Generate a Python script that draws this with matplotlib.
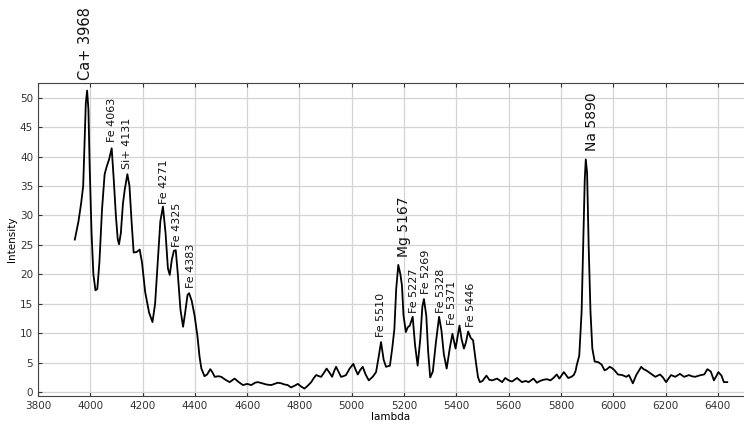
import matplotlib
matplotlib.use('Agg')
import matplotlib.pyplot as plt

# spectrum
wavelength = [3941, 3955, 3965, 3973, 3978, 3983, 3988, 3993, 3998, 4005, 4012, 4020, 4027,
              4035, 4045, 4055, 4063, 4072, 4082, 4090, 4098, 4105, 4110, 4117, 4125, 4132,
              4142, 4150, 4158, 4166, 4178, 4189, 4198, 4210, 4225, 4238, 4248, 4258, 4268,
              4278, 4288, 4297, 4304, 4312, 4320, 4327, 4335, 4345, 4355, 4363, 4372, 4378,
              4388, 4399, 4410, 4418, 4425, 4437, 4447, 4459, 4468, 4476, 4490, 4501, 4517,
              4533, 4552, 4568, 4584, 4600, 4616, 4630, 4641, 4658, 4673, 4692, 4705, 4717,
              4730, 4743, 4755, 4768, 4782, 4794, 4805, 4819, 4832, 4845, 4855, 4864, 4875,
              4883, 4894, 4904, 4915, 4925, 4932, 4940, 4950, 4959, 4968, 4978, 4992, 5006,
              5015, 5023, 5033, 5042, 5053, 5065, 5080, 5093, 5103, 5112, 5122, 5131, 5146,
              5155, 5163, 5170, 5178, 5186, 5192, 5198, 5207, 5214, 5222, 5233, 5242, 5252,
              5262, 5270, 5276, 5285, 5292, 5300, 5310, 5322, 5334, 5343, 5352, 5363, 5375,
              5385, 5397, 5405, 5412, 5420, 5429, 5437, 5445, 5455, 5464, 5475, 5483, 5490,
              5500, 5515, 5526, 5537, 5556, 5575, 5587, 5600, 5613, 5632, 5651, 5665, 5676,
              5695, 5708, 5720, 5733, 5746, 5760, 5771, 5784, 5794, 5811, 5828, 5840, 5849,
              5856, 5860, 5870, 5879, 5885, 5891, 5895, 5900, 5906, 5913, 5920, 5929, 5942,
              5955, 5967, 5976, 5986, 5995, 6005, 6018, 6034, 6050, 6060, 6075, 6088, 6107,
              6116, 6126, 6145, 6161, 6179, 6190, 6202, 6221, 6237, 6255, 6271, 6290, 6300,
              6313, 6335, 6348, 6360, 6373, 6385, 6395, 6402, 6414, 6423, 6436]
intensity = [25.9, 29, 32, 35, 42, 49, 51.2, 48, 38, 27, 20, 17.3, 17.5,
             22, 31, 37, 38.3, 39.5, 41.4, 36, 30, 26, 25.1, 27, 32, 34.4,
             37.0, 35, 29, 23.7, 23.8, 24.2, 22, 17, 13.5, 11.9, 15, 22, 29,
             31.5, 27, 21, 19.9, 22.5, 24.0, 24.1, 20, 14, 11.1, 13.5, 16.5, 16.8,
             15.5, 13.0, 9.5, 6.0, 4.0, 2.7, 3.0, 3.9, 3.3, 2.6, 2.7, 2.6, 2.1,
             1.7, 2.3, 1.7, 1.2, 1.4, 1.2, 1.6, 1.7, 1.5, 1.3, 1.2, 1.4, 1.6,
             1.5, 1.3, 1.2, 0.8, 1.1, 1.4, 1.0, 0.6, 1.1, 1.7, 2.4, 2.9, 2.7,
             2.6, 3.3, 4.0, 3.3, 2.6, 3.5, 4.3, 3.4, 2.6, 2.7, 2.9, 4.0, 4.8,
             3.8, 3.0, 3.8, 4.3, 3.0, 2.0, 2.6, 3.4, 6.0, 8.5, 5.5, 4.3, 4.5,
             7.5, 10.7, 17.5, 21.6, 20.0, 18.1, 13.0, 10.2, 11.0, 11.3, 12.8, 8.0, 4.5,
             9.0, 14.5, 15.8, 13, 7, 2.5, 3.5, 8.5, 12.8, 10.5, 6.5, 4.0, 7.5,
             9.9, 7.4, 9.5, 11.3, 9.0, 7.4, 8.5, 10.3, 9.2, 8.8, 5.0, 2.5, 1.7,
             1.9, 2.8, 2.1, 2.0, 2.3, 1.7, 2.4, 2.0, 1.8, 2.4, 1.7, 1.9, 1.7,
             2.3, 1.6, 1.9, 2.1, 2.2, 2.0, 2.4, 3.0, 2.3, 3.4, 2.4, 2.6, 2.9,
             3.6, 4.5, 6.2, 13.6, 24.8, 36.1, 39.5, 37.2, 24.8, 13.6, 7.4, 5.2, 5.1,
             4.7, 3.7, 3.9, 4.3, 4.1, 3.7, 3.0, 2.9, 2.6, 2.9, 1.5, 2.9, 4.3,
             3.9, 3.7, 3.1, 2.6, 3.0, 2.5, 1.7, 2.9, 2.6, 3.1, 2.6, 2.9, 2.7,
             2.6, 2.9, 3.0, 3.9, 3.5, 2.0, 2.8, 3.4, 2.8, 1.7, 1.7]

# line labels: text, x, y (bottom of the text), font size
line_names = ['Ca+ 3968', 'Fe 4063', 'Si+ 4131', 'Fe 4271', 'Fe 4325', 'Fe 4383',
              'Fe 5510', 'Mg 5167', 'Fe 5227', 'Fe 5269', 'Fe 5328', 'Fe 5371',
              'Fe 5446', 'Na 5890']
line_x = [3983, 4085, 4142, 4283, 4332, 4385, 5111, 5200, 5237, 5283, 5340, 5385, 5457, 5919]
line_y = [53.0, 42.5, 37.8, 32.0, 24.7, 17.6, 9.3, 22.9, 13.5, 16.6, 13.5, 11.4, 11.1, 41.0]
line_size = [10.5, 8, 8, 8, 8, 8, 8, 10, 8, 8, 8, 8, 8, 10]

fig = plt.figure(figsize=(7.44, 4.25), dpi=100)
ax = fig.add_axes([0.051, 0.069, 0.949, 0.736])

ax.plot(wavelength, intensity, color='black', lw=1.3)

for name, x, y, s in zip(line_names, line_x, line_y, line_size):
    ax.text(x, y, name, rotation=90, ha='center', va='bottom', fontsize=s,
            color='#111111', clip_on=False)

ax.set_xlim(3800, 6500)
ax.set_ylim(-0.6, 52.5)
ax.set_xticks(range(3800, 6401, 200))
ax.set_yticks(range(0, 51, 5))
ax.grid(True, color='#d4d4d4', lw=0.9)
ax.set_axisbelow(True)
ax.tick_params(direction='in', length=3, labelsize=7.5, colors='#333333', top=True)
for side in ['left', 'bottom', 'top']:
    ax.spines[side].set_color('#444444')
ax.spines['right'].set_visible(False)

ax.set_xlabel('lambda', fontsize=7.5, labelpad=1)
ax.set_ylabel('Intensity', fontsize=7.5, labelpad=2)

fig.savefig('out.png', dpi=100)
